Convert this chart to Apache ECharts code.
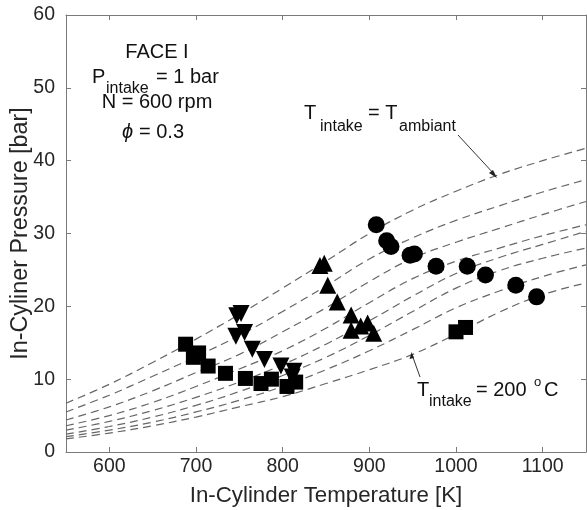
<!DOCTYPE html>
<html><head><meta charset="utf-8">
<script src="https://cdn.jsdelivr.net/npm/echarts@6/dist/echarts.min.js"></script>
<style>html,body{margin:0;padding:0;background:#fff}#c{width:587px;height:510px}</style>
</head><body><div id="c"></div>
<script>
// ---- data ----
const temps  = [550, 600, 650, 700, 750, 800, 850, 900, 950, 1000, 1050, 1100, 1150];
const curve1 = [6.7, 9.3, 12.3, 15.5, 18.9, 22.5, 26.2, 30.0, 33.2, 35.8, 38.1, 40.0, 41.7];
const curve2 = [5.5, 7.8, 10.4, 13.1, 16.0, 19.3, 22.8, 26.5, 29.4, 31.8, 33.8, 35.7, 37.4];
const curve3 = [4.4, 6.2, 8.4, 10.9, 13.4, 16.5, 19.8, 23.4, 26.6, 28.8, 30.7, 32.6, 34.4];
const curve4 = [3.6, 5.0, 6.8, 9.0, 11.4, 13.9, 17.0, 20.5, 23.8, 26.2, 28.0, 29.7, 31.2];
const curve5 = [3.0, 4.2, 5.7, 7.5, 9.6, 12.0, 14.8, 18.0, 21.4, 24.5, 26.7, 28.5, 30.3];
const curve6 = [2.45, 3.5, 4.8, 6.4, 8.3, 10.5, 13.0, 16.0, 19.3, 22.5, 24.9, 26.6, 28.0];
const curve7 = [2.1, 3.0, 4.1, 5.5, 7.1, 9.0, 11.3, 13.9, 16.8, 19.8, 22.1, 24.1, 25.7];
const curve8 = [1.8, 2.6, 3.6, 4.8, 6.2, 7.6, 9.4, 11.3, 13.4, 16.2, 19.2, 21.6, 23.2];
const curves = [curve1, curve2, curve3, curve4, curve5, curve6, curve7, curve8];

const squarePts = [[688,14.8],[697,13.0],[703,13.6],[714,11.8],[734,10.8],[757,10.1],[775,9.4],[787,10.0],[805,9.0],[815,9.6],[1000,16.5],[1011,17.1]];
const invTriPts = [[747,18.7],[752,19.0],[746,15.9],[756,16.4],[765,14.1],[779,12.7],[798,11.8],[813,11.1],[811,10.3]];
const triPts    = [[843,25.6],[848,25.9],[852,22.9],[863,20.6],[879,18.8],[879,16.7],[890,17.3],[898,17.7],[905,16.3]];
const circlePts = [[908,31.2],[920,29.0],[925,28.2],[947,27.0],[952,27.2],[977,25.5],[1013,25.5],[1034,24.3],[1069,22.9],[1093,21.3]];

const xTicks = [600, 700, 800, 900, 1000, 1100];
const yTicks = [0, 10, 20, 30, 40, 50, 60];

// ---- chart ----
const FONT = "'Liberation Sans', Arial, Helvetica, sans-serif";
const chart = echarts.init(document.getElementById('c'), null, {renderer: 'canvas'});

const axisCommon = {
  axisLine: {show: true, onZero: false, lineStyle: {color: '#7a7a7a', width: 1}},
  axisTick: {show: true, inside: true, length: 5, lineStyle: {color: '#7a7a7a'}},
  splitLine: {show: false}
};

const series = [];
curves.forEach((c) => {
  series.push({
    type: 'line', xAxisIndex: 0, yAxisIndex: 0,
    data: temps.map((t, i) => [t, c[i]]),
    smooth: 0.4, showSymbol: false, silent: true, clip: true,
    lineStyle: {color: '#666', width: 1.2, type: [8, 5]},
    z: 2
  });
});
const scat = (data, symbol, size, rot) => ({
  type: 'scatter', data, symbol, symbolSize: size, symbolRotate: rot || 0,
  itemStyle: {color: '#000', opacity: 1}, z: 5, silent: true
});
series.push(scat(squarePts, 'rect', 15));
series.push(scat(invTriPts, 'triangle', 17, 180));
series.push(scat(triPts, 'triangle', 17));
series.push(scat(circlePts, 'circle', 17));

const txt = (x, y, text, size, extra) => Object.assign({
  type: 'text', x, y, z: 20,
  style: Object.assign({text, fill: '#111', font: `${size}px ${FONT}`, textVerticalAlign: 'middle', textAlign: 'left'}, extra || {})
});
const BIG = 20, SUB = 16;

chart.setOption({
  animation: false,
  backgroundColor: '#fff',
  grid: {left: 66, right: 1, top: 15, bottom: 58, show: false, containLabel: false, outerBoundsMode: 'none'},
  xAxis: [
    Object.assign({}, axisCommon, {
      type: 'value', min: 550, max: 1150, position: 'bottom',
      name: 'In-Cylinder Temperature [K]', nameLocation: 'middle', nameGap: 33, nameMoveOverlap: false,
      nameTextStyle: {fontFamily: FONT, fontSize: 22.3, color: '#262626'},
      axisTick: Object.assign({}, axisCommon.axisTick, {customValues: xTicks}),
      axisLabel: {customValues: xTicks, formatter: v => String(v), fontFamily: FONT, fontSize: 19.5, color: '#262626', margin: 5}
    }),
    Object.assign({}, axisCommon, {
      type: 'value', min: 550, max: 1150, position: 'top',
      axisTick: Object.assign({}, axisCommon.axisTick, {customValues: xTicks}),
      axisLabel: {show: false}
    })
  ],
  yAxis: [
    Object.assign({}, axisCommon, {
      type: 'value', min: 0, max: 60, interval: 10, position: 'left',
      name: 'In-Cyliner Pressure [bar]', nameLocation: 'middle', nameGap: 34, nameMoveOverlap: false,
      nameTextStyle: {fontFamily: FONT, fontSize: 23.3, color: '#262626'},
      axisLabel: {formatter: v => String(v), fontFamily: FONT, fontSize: 19.5, color: '#262626', margin: 11}
    }),
    Object.assign({}, axisCommon, {
      type: 'value', min: 0, max: 60, interval: 10, position: 'right',
      axisLabel: {show: false}
    })
  ],
  series,
  graphic: [
    txt(157, 52, 'FACE I', BIG, {textAlign: 'center'}),
    txt(92, 77, 'P', BIG),
    txt(106, 89, 'intake', SUB),
    txt(156, 77, '= 1 bar', BIG),
    txt(157, 102, 'N = 600 rpm', BIG, {textAlign: 'center'}),
    txt(122, 132, '\u03d5', BIG, {font: `italic ${BIG}px ${FONT}`}),
    txt(139, 132, '= 0.3', BIG),

    txt(304, 113, 'T', BIG),
    txt(320, 127, 'intake', SUB),
    txt(368, 113, '= T', BIG),
    txt(399, 127, 'ambiant', SUB),

    txt(417, 390, 'T', BIG),
    txt(429, 402, 'intake', SUB),
    txt(476, 390, '= 200', BIG),
    txt(534, 382, 'o', 13),
    txt(544, 390, 'C', BIG),

    {type: 'line', z: 20, shape: {x1: 458, y1: 135, x2: 495, y2: 175}, style: {stroke: '#333', lineWidth: 1}},
    {type: 'polygon', z: 20, shape: {points: [[497, 178], [489, 173], [493, 170]]}, style: {fill: '#222'}},
    {type: 'line', z: 20, shape: {x1: 420, y1: 377, x2: 412.5, y2: 356}, style: {stroke: '#333', lineWidth: 1}},
    {type: 'polygon', z: 20, shape: {points: [[411.7, 352], [409.5, 359], [414, 358]]}, style: {fill: '#222'}}
  ]
});
</script>
</body></html>
